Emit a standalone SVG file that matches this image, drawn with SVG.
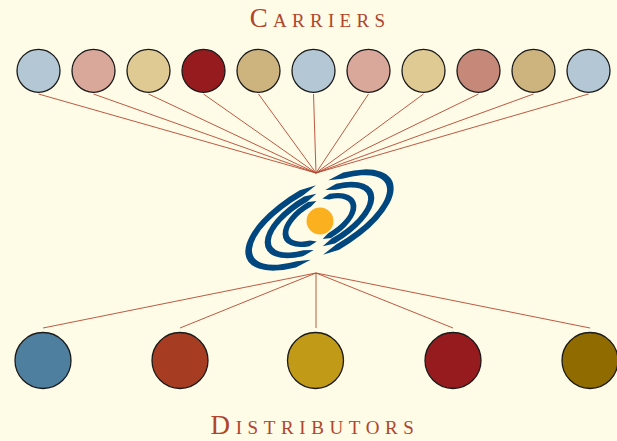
<svg xmlns="http://www.w3.org/2000/svg" xmlns:xlink="http://www.w3.org/1999/xlink" width="617" height="441" viewBox="0 0 617 441">
  <style>
    .title { font-family: "Liberation Serif", "DejaVu Serif", serif; font-variant: small-caps; fill: #B0452B; font-size: 27px; text-anchor: middle; }
    .node circle { stroke: #1a1a1a; stroke-width: 1.3; }
    .link { stroke: #B5472F; stroke-width: 0.9; fill: none; }
    .arm { fill: #00467F; }
  </style>
  <defs>
    <!-- left arms of the three spiral rings in the tilted local frame; right arms reuse them turned 180 degrees -->
    <path id="armOuter" d="M -27.02 30.54 L -43.72 30.10 A 82.5 35.5 0 0 1 -2.88 -35.48 L 13.71 -32.01 L -2.63 -29.48 A 75.5 29.5 0 0 0 -40.01 25.02 Z"/>
    <path id="armMiddle" d="M -19.67 23.49 L -32.19 23.74 A 60.75 28 0 0 1 -2.12 -27.98 L 9.98 -24.62 L -1.89 -21.99 A 54.25 22 0 0 0 -28.75 18.66 Z"/>
    <path id="armInner" d="M -12.83 17.38 L -21.46 18.02 A 40.5 21.25 0 0 1 -1.41 -21.24 L 6.51 -18.22 L -1.20 -15.74 A 34.5 15.75 0 0 0 -18.28 13.36 Z"/>
  </defs>

  <rect width="617" height="441" fill="#FEFBE7"/>

  <text class="title" x="320" y="26.5" letter-spacing="5.3">Carriers</text>
  <text class="title" x="315" y="434" letter-spacing="5.6">Distributors</text>

  <g id="connectors">
    <line class="link" x1="38.5" y1="94" x2="316" y2="173"/>
    <line class="link" x1="93.5" y1="94" x2="316" y2="173"/>
    <line class="link" x1="148.5" y1="94" x2="316" y2="173"/>
    <line class="link" x1="203.5" y1="94" x2="316" y2="173"/>
    <line class="link" x1="258.5" y1="94" x2="316" y2="173"/>
    <line class="link" x1="313.5" y1="94" x2="316" y2="173"/>
    <line class="link" x1="368.5" y1="94" x2="316" y2="173"/>
    <line class="link" x1="423.5" y1="94" x2="316" y2="173"/>
    <line class="link" x1="478.5" y1="94" x2="316" y2="173"/>
    <line class="link" x1="533.5" y1="94" x2="316" y2="173"/>
    <line class="link" x1="588.5" y1="94" x2="316" y2="173"/>
    <line class="link" x1="316" y1="273" x2="43" y2="328"/>
    <line class="link" x1="316" y1="273" x2="180" y2="328"/>
    <line class="link" x1="316" y1="273" x2="316" y2="328"/>
    <line class="link" x1="316" y1="273" x2="453" y2="328"/>
    <line class="link" x1="316" y1="273" x2="590" y2="328"/>
  </g>

  <g id="carriers">
    <g id="carrier-1" class="node"><circle cx="38.5" cy="70.8" r="21.5" fill="#B3C7D4"/></g>
    <g id="carrier-2" class="node"><circle cx="93.5" cy="70.8" r="21.5" fill="#D9A89A"/></g>
    <g id="carrier-3" class="node"><circle cx="148.5" cy="70.8" r="21.5" fill="#E0CA93"/></g>
    <g id="carrier-4" class="node"><circle cx="203.5" cy="70.8" r="21.5" fill="#961B1F"/></g>
    <g id="carrier-5" class="node"><circle cx="258.5" cy="70.8" r="21.5" fill="#CDB47F"/></g>
    <g id="carrier-6" class="node"><circle cx="313.5" cy="70.8" r="21.5" fill="#B3C7D4"/></g>
    <g id="carrier-7" class="node"><circle cx="368.5" cy="70.8" r="21.5" fill="#D9A89A"/></g>
    <g id="carrier-8" class="node"><circle cx="423.5" cy="70.8" r="21.5" fill="#E0CA93"/></g>
    <g id="carrier-9" class="node"><circle cx="478.5" cy="70.8" r="21.5" fill="#C68979"/></g>
    <g id="carrier-10" class="node"><circle cx="533.5" cy="70.8" r="21.5" fill="#CDB47F"/></g>
    <g id="carrier-11" class="node"><circle cx="588.5" cy="70.8" r="21.5" fill="#B3C7D4"/></g>
  </g>

  <g id="hub">
    <g transform="translate(319.5 220) rotate(-29)">
      <use xlink:href="#armOuter" class="arm"/>
      <use xlink:href="#armOuter" class="arm" transform="rotate(180)"/>
      <use xlink:href="#armMiddle" class="arm"/>
      <use xlink:href="#armMiddle" class="arm" transform="rotate(180)"/>
      <use xlink:href="#armInner" class="arm"/>
      <use xlink:href="#armInner" class="arm" transform="rotate(180)"/>
    </g>
    <circle cx="320" cy="221" r="13.5" fill="#FBB01F"/>
  </g>

  <g id="distributors">
    <g id="distributor-1" class="node"><circle cx="43" cy="360.5" r="28" fill="#4F7F9E"/></g>
    <g id="distributor-2" class="node"><circle cx="180" cy="360.5" r="28" fill="#A63D22"/></g>
    <g id="distributor-3" class="node"><circle cx="315.5" cy="360.5" r="28" fill="#C19A17"/></g>
    <g id="distributor-4" class="node"><circle cx="453" cy="360.5" r="28" fill="#961B1F"/></g>
    <g id="distributor-5" class="node"><circle cx="590" cy="360.5" r="28" fill="#8F6B00"/></g>
  </g>
</svg>
